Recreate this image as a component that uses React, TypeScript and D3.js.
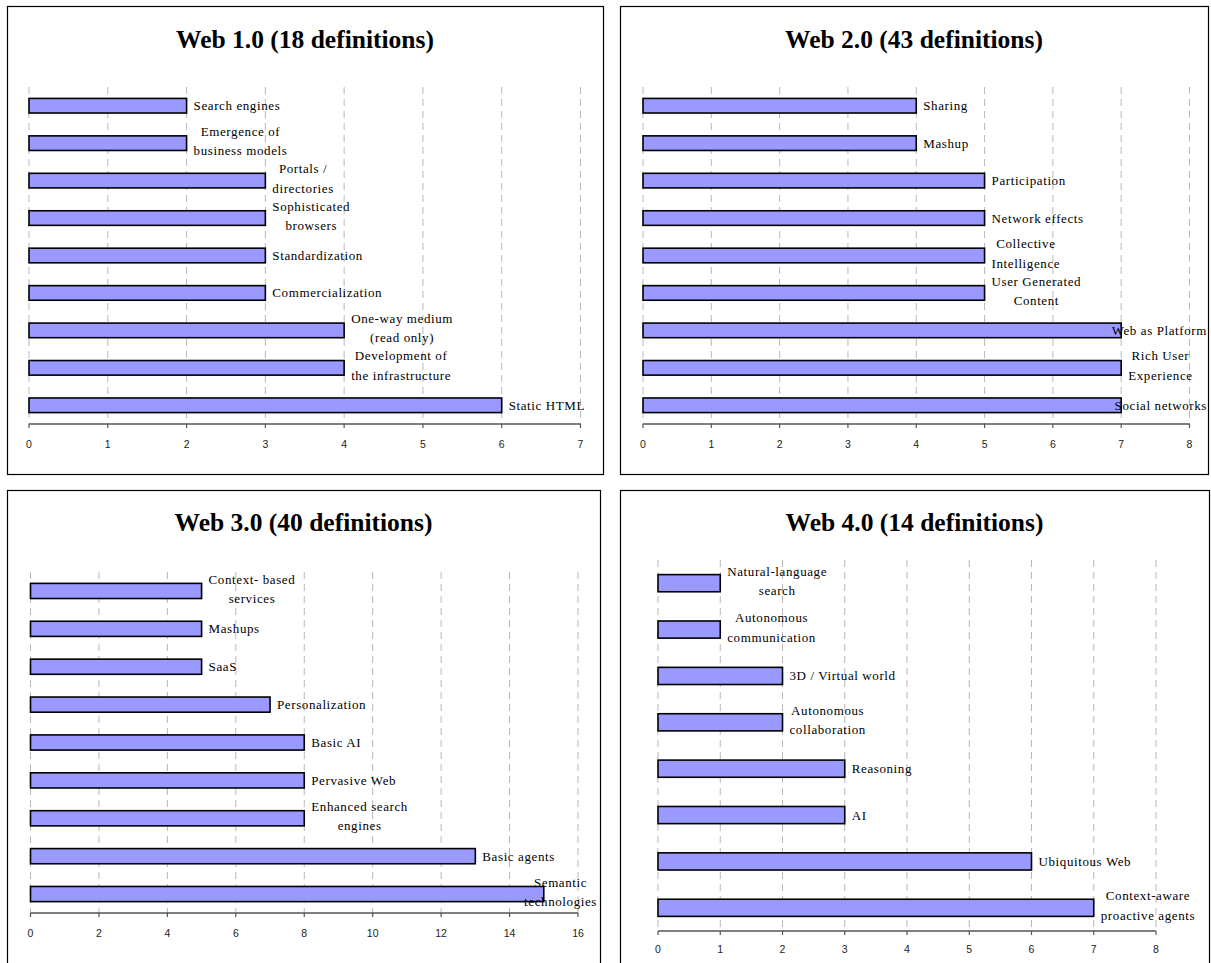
import * as d3 from "d3";
import { useEffect, useRef } from "react";

// four bar charts, one per web generation
const web1Title = "Web 1.0 (18 definitions)";
const web1Labels = [
  "Search engines",
  "Emergence of\nbusiness models",
  "Portals /\ndirectories",
  "Sophisticated\nbrowsers",
  "Standardization",
  "Commercialization",
  "One-way medium\n(read only)",
  "Development of\nthe infrastructure",
  "Static HTML",
];
const web1Values = [2, 2, 3, 3, 3, 3, 4, 4, 6];

const web2Title = "Web 2.0 (43 definitions)";
const web2Labels = [
  "Sharing",
  "Mashup",
  "Participation",
  "Network effects",
  "Collective\nIntelligence",
  "User Generated\nContent",
  "Web as Platform",
  "Rich User\nExperience",
  "Social networks",
];
const web2Values = [4, 4, 5, 5, 5, 5, 7, 7, 7];

const web3Title = "Web 3.0 (40 definitions)";
const web3Labels = [
  "Context- based\nservices",
  "Mashups",
  "SaaS",
  "Personalization",
  "Basic AI",
  "Pervasive Web",
  "Enhanced search\nengines",
  "Basic agents",
  "Semantic\ntechnologies",
];
const web3Values = [5, 5, 5, 7, 8, 8, 8, 13, 15];

const web4Title = "Web 4.0 (14 definitions)";
const web4Labels = [
  "Natural-language\nsearch",
  "Autonomous\ncommunication",
  "3D / Virtual world",
  "Autonomous\ncollaboration",
  "Reasoning",
  "AI",
  "Ubiquitous Web",
  "Context-aware\nproactive agents",
];
const web4Values = [1, 1, 2, 2, 3, 3, 6, 7];

const W = 1211;
const H = 963;
const serif = "'Liberation Serif', 'Times New Roman', serif";
const sans = "'Liberation Sans', Arial, sans-serif";

interface Panel {
  title: string;
  labels: string[];
  values: number[];
  xMax: number;
  tickStep: number;
  box: [number, number, number, number];
  plotLeft: number;
  plotRight: number;
  gridTop: number;
  axisY: number;
  tickLabelY: number;
  titleY: number;
  labelLimit: number;
  pad: number;
}

const panels: Panel[] = [
  {
    title: web1Title, labels: web1Labels, values: web1Values, xMax: 7, tickStep: 1,
    box: [7, 6, 603, 474], plotLeft: 29, plotRight: 580.5, gridTop: 87, axisY: 424,
    tickLabelY: 448, titleY: 48, labelLimit: 598, pad: 0.61,
  },
  {
    title: web2Title, labels: web2Labels, values: web2Values, xMax: 8, tickStep: 1,
    box: [620, 6, 1208, 474], plotLeft: 643, plotRight: 1189.5, gridTop: 87, axisY: 424,
    tickLabelY: 448, titleY: 48, labelLimit: 1207, pad: 0.61,
  },
  {
    title: web3Title, labels: web3Labels, values: web3Values, xMax: 16, tickStep: 2,
    box: [7, 490, 600, 975], plotLeft: 30.5, plotRight: 578, gridTop: 572, axisY: 913,
    tickLabelY: 937, titleY: 531, labelLimit: 597, pad: 0.6,
  },
  {
    title: web4Title, labels: web4Labels, values: web4Values, xMax: 8, tickStep: 1,
    box: [620, 490, 1209, 975], plotLeft: 658, plotRight: 1156, gridTop: 560, axisY: 931,
    tickLabelY: 953, titleY: 531, labelLimit: 1205, pad: 0.63,
  },
];

export default function App() {
  const ref = useRef<SVGSVGElement>(null);

  useEffect(() => {
    if (!ref.current) return;
    const svg = d3.select(ref.current);
    svg.selectAll("*").remove();
    svg.append("rect").attr("width", W).attr("height", H).attr("fill", "#fff");

    panels.forEach((p) => {
      const g = svg.append("g");
      const [bx0, by0, bx1, by1] = p.box;

      g.append("rect")
        .attr("x", bx0 + 0.5)
        .attr("y", by0 + 0.5)
        .attr("width", bx1 - bx0)
        .attr("height", by1 - by0)
        .attr("fill", "none")
        .attr("stroke", "#000")
        .attr("stroke-width", 1.2);

      g.append("text")
        .attr("x", (bx0 + bx1) / 2)
        .attr("y", p.titleY)
        .attr("text-anchor", "middle")
        .attr("font-family", serif)
        .attr("font-weight", "bold")
        .attr("font-size", 25.5)
        .text(p.title);

      const x = d3.scaleLinear().domain([0, p.xMax]).range([p.plotLeft, p.plotRight]);
      const y = d3
        .scaleBand<string>()
        .domain(p.labels)
        .range([p.gridTop, p.axisY])
        .paddingInner(p.pad)
        .paddingOuter(p.pad / 2);
      const ticks = d3.range(0, p.xMax + p.tickStep / 2, p.tickStep);

      // dashed gridlines
      g.append("g")
        .selectAll("line")
        .data(ticks)
        .join("line")
        .attr("x1", (d) => x(d))
        .attr("x2", (d) => x(d))
        .attr("y1", p.gridTop)
        .attr("y2", p.axisY)
        .attr("stroke", "#b8b8b8")
        .attr("stroke-width", 1)
        .attr("stroke-dasharray", "7,5");

      // axis
      const axis = g.append("g").attr("transform", `translate(0,${p.axisY})`);
      axis.append("line")
        .attr("x1", x(0))
        .attr("x2", x(p.xMax))
        .attr("stroke", "#555")
        .attr("stroke-width", 1.5);
      axis.selectAll("line.tick")
        .data(ticks)
        .join("line")
        .attr("class", "tick")
        .attr("x1", (d) => x(d))
        .attr("x2", (d) => x(d))
        .attr("y1", 0)
        .attr("y2", 4)
        .attr("stroke", "#555")
        .attr("stroke-width", 1.2);
      g.append("g")
        .selectAll("text")
        .data(ticks)
        .join("text")
        .attr("x", (d) => x(d))
        .attr("y", p.tickLabelY)
        .attr("text-anchor", "middle")
        .attr("font-family", sans)
        .attr("font-size", 10.5)
        .attr("fill", "#222")
        .text((d) => d);

      const rows = p.labels.map((label, i) => ({ label, value: p.values[i] }));

      g.append("g")
        .selectAll("rect")
        .data(rows)
        .join("rect")
        .attr("x", x(0))
        .attr("y", (d) => y(d.label)!)
        .attr("width", (d) => x(d.value) - x(0))
        .attr("height", y.bandwidth())
        .attr("fill", "#9999ff")
        .attr("stroke", "#000")
        .attr("stroke-width", 1.6);

      // data labels, wrapped and pushed back inside the chart area if too wide
      const labelG = g.append("g")
        .attr("font-family", serif)
        .attr("font-size", 13)
        .attr("letter-spacing", 0.6)
        .attr("fill", "#000");

      rows.forEach((d) => {
        const lines = d.label.split("\n");
        const cy = y(d.label)! + y.bandwidth() / 2;
        const lineH = 19.5;
        const offset = lines.length > 1 ? -2.2 : 0;
        const t = labelG.append("text").attr("text-anchor", "middle");
        lines.forEach((line, i) => {
          t.append("tspan")
            .attr("y", cy + offset + (i - (lines.length - 1) / 2) * lineH)
            .attr("dy", "0.35em")
            .text(line);
        });
        let maxW = 0;
        t.selectAll<SVGTSpanElement, unknown>("tspan").each(function () {
          maxW = Math.max(maxW, this.getComputedTextLength());
        });
        let cx = x(d.value) + 7 + maxW / 2;
        if (cx + maxW / 2 > p.labelLimit) cx = p.labelLimit - maxW / 2;
        t.selectAll("tspan").attr("x", cx);
      });
    });
  }, []);

  return (
    <svg
      ref={ref}
      width={W}
      height={H}
      viewBox={`0 0 ${W} ${H}`}
      style={{ position: "absolute", left: 0, top: 0, display: "block" }}
    />
  );
}
